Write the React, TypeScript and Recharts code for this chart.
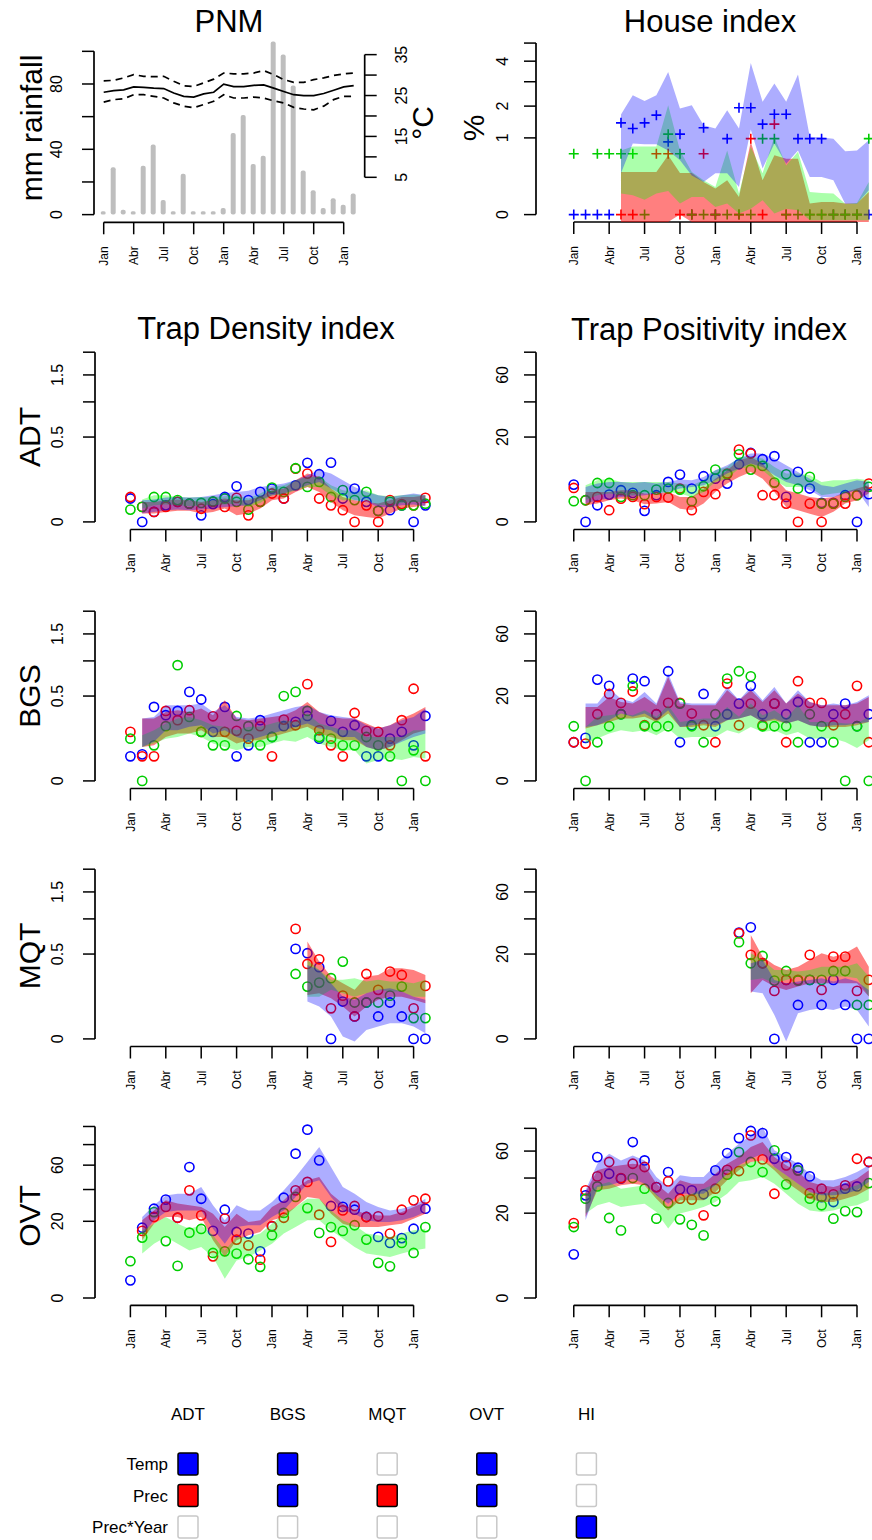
import { Area, Bar, ComposedChart, Line, ReferenceLine, Scatter, XAxis, YAxis } from "recharts";

const FONT = '"Liberation Sans", Arial, Helvetica, sans-serif';
const C_BLUE = "#0000ff";
const C_RED = "#ff0000";
const C_GREEN = "#00cd00";

type Pt = number | null;
type Band = [number, number] | null;

const months = [0, 1, 2, 3, 4, 5, 6, 7, 8, 9, 10, 11, 12, 13, 14, 15, 16, 17, 18, 19, 20, 21, 22, 23, 24, 25];
const monthTicks = [0, 3, 6, 9, 12, 15, 18, 21, 24];
const monthLabels = ["Jan", "Abr", "Jul", "Oct", "Jan", "Abr", "Jul", "Oct", "Jan"];

// PNM climate
const rainfall = [2, 29, 3, 2, 30, 43, 9, 2, 25, 2, 2, 2, 4, 50, 61, 31, 36, 106, 98, 79, 27, 15, 4, 10, 6, 13];
const tempMean = [25.8, 26.2, 26.4, 27.1, 27.0, 26.8, 26.7, 25.6, 24.8, 24.6, 25.4, 25.8, 27.8, 27.2, 27.2, 27.5, 27.6, 26.8, 26.0, 25.2, 25.0, 25.0, 25.5, 26.3, 27.1, 27.4];
const tempMax = [28.6, 28.7, 29.3, 30.1, 29.7, 29.6, 29.7, 28.5, 27.4, 27.2, 28.1, 29.0, 30.5, 30.3, 30.3, 30.5, 31.1, 30.1, 28.9, 28.2, 28.2, 28.9, 29.3, 29.9, 30.3, 30.5];
const tempMin = [23.4, 24.0, 24.2, 25.2, 25.2, 24.8, 24.4, 23.2, 22.4, 22.0, 22.8, 23.6, 25.2, 24.4, 24.4, 24.6, 24.4, 23.7, 23.2, 22.1, 21.7, 21.5, 22.4, 24.0, 24.8, 24.8];
const rainTicks = [0, 20, 40, 60, 80, 100];
const rainLabels = [0, 40, 80];
const tempTicks = [5, 10, 15, 20, 25, 30, 35];
const tempLabels = [5, 15, 25, 35];

// House index (%)
const hiBlue: Pt[] = [0, 0, 0, 0, 1.43, 1.26, 1.43, 1.68, 0.9, 1.1, 0, 1.28, 0, 0.98, 1.94, 1.94, 1.39, 1.71, 1.71, 0.98, 0.98, 0.98, 0, 0, 0, 0];
const hiRed: Pt[] = [null, null, null, null, 0, 0, null, 0.63, 0.63, 0, 0, 0.63, 0, null, 0, 0.98, 0, 1.39, 0, null, 0, 0, 0, 0, 0, null];
const hiGreen: Pt[] = [0.63, null, 0.63, 0.63, 0.63, 0.63, 0, null, 1.1, 0.63, 0, 0, 0, 0, 0, 0, 0.98, 0.98, 0, 0, 0, 0, 0, 0, 0, 0.98];
const hiBandBlue: Band[] = [null, null, null, null, [0.29, 1.7], [0.86, 2.42], [0.84, 2.19], [0.84, 2.42], [0.7, 3.46], [0.5, 1.91], [0.26, 2.03], [0.18, 1.36], [0.29, 1.26], [0.29, 1.85], [0.13, 1.26], [1.23, 3.91], [0.36, 2.16], [0.86, 2.92], [0.44, 2.16], [0.7, 3.33], [0.24, 1.03], [0.24, 1.01], [0.2, 0.98], [0.02, 0.68], [0.02, 0.7], [0.1, 0.94]];
const hiBandRed: Band[] = [null, null, null, null, [-0.0091, 0.31], [-0.0091, 0.31], [-0.0091, 0.31], [-0.0091, 0.31], [-0.0091, 0.6], [0, 0.295], [-0.0091, 0.295], [-0.0091, 0.18], [-0.0091, 0.115], [-0.0091, 0.2], [-0.0091, 0.053], [-0.0091, 0.9], [-0.0091, 0.2], [-0.0091, 0.6], [-0.0091, 0.53], [-0.0091, 0.53], [-0.0091, 0.021], [-0.0091, 0.027], [-0.0091, 0.027], [-0.0091, 0.021], [-0.0091, 0.021], [-0.0091, 0.087]];
const hiBandGreen: Band[] = [null, null, null, null, [0.075, 0.7], [0.064, 0.79], [0.038, 0.79], [0.075, 0.79], [0.095, 2.03], [0.021, 0.7], [0.053, 0.31], [0.053, 0.2], [0.01, 0.13], [0.021, 0.7], [0.0002, 0.075], [0.006, 0.78], [0.035, 0.29], [0.0002, 1.03], [0.006, 0.41], [0.0032, 0.67], [-0.0055, 0.087], [-0.0055, 0.08], [-0.0055, 0.075], [-0.0055, 0.02], [-0.0055, 0.023], [-0.0055, 0.18]];

// ADT
const adtDenBlue: Pt[] = [0.038, 0, 0.0069, 0.019, 0.028, 0.023, 0.003, 0.022, 0.043, 0.088, 0.033, 0.0625, 0.077, 0.038, 0.093, 0.242, 0.158, 0.244, 0.038, 0.077, 0.028, 0.0084, 0.0095, 0.019, 0, 0.019];
const adtDenRed: Pt[] = [0.043, 0.0156, 0.0069, 0.0156, 0.028, 0.023, 0.012, 0.028, 0.0156, 0.04, 0.003, 0.028, 0.056, 0.038, 0.197, 0.162, 0.038, 0.019, 0.0095, 0, 0.019, 0, 0.033, 0.022, 0.019, 0.04];
const adtDenGreen: Pt[] = [0.0105, 0.0156, 0.043, 0.043, 0.033, 0.023, 0.025, 0.029, 0.038, 0.028, 0.0105, 0.028, 0.082, 0.0625, 0.2, 0.085, 0.111, 0.043, 0.07, 0.033, 0.0625, 0.0084, 0.028, 0.019, 0.019, 0.023];
const adtDenBandBlue: Band[] = [null, [0.0048, 0.0326], [0.0069, 0.035], [0.0095, 0.041], [0.0105, 0.0434], [0.0095, 0.041], [0.0105, 0.0434], [0.0123, 0.049], [0.0156, 0.058], [0.017, 0.0625], [0.0193, 0.067], [0.0326, 0.085], [0.049, 0.093], [0.0557, 0.102], [0.072, 0.121], [0.093, 0.151], [0.111, 0.185], [0.077, 0.162], [0.049, 0.121], [0.0326, 0.085], [0.0278, 0.0625], [0.0156, 0.049], [0.0156, 0.0434], [0.0193, 0.049], [0.021, 0.0557], [0.017, 0.049]];
const adtDenBandRed: Band[] = [null, [0.0048, 0.0278], [0.0048, 0.0278], [0.0069, 0.0326], [0.0085, 0.035], [0.0085, 0.0326], [0.0048, 0.0278], [0.0069, 0.0326], [0.0123, 0.0378], [0.003, 0.0326], [0.0048, 0.0326], [0.0123, 0.046], [0.0326, 0.0696], [0.0378, 0.0772], [0.0625, 0.121], [0.085, 0.162], [0.0625, 0.141], [0.0278, 0.0772], [0.0095, 0.0434], [0.003, 0.0326], [0.0017, 0.0278], [0.0008, 0.0233], [0.0048, 0.0326], [0.0123, 0.0434], [0.0156, 0.0434], [0.0193, 0.049]];
const adtDenBandGreen: Band[] = [null, [0.0123, 0.035], [0.0193, 0.049], [0.021, 0.049], [0.0193, 0.0434], [0.017, 0.041], [0.0193, 0.0434], [0.0193, 0.0434], [0.021, 0.046], [0.0233, 0.049], [0.0156, 0.0378], [0.025, 0.0557], [0.049, 0.085], [0.053, 0.093], [0.0696, 0.121], [0.085, 0.141], [0.085, 0.141], [0.049, 0.093], [0.0326, 0.0696], [0.0326, 0.0625], [0.0326, 0.0696], [0.0193, 0.049], [0.021, 0.046], [0.025, 0.049], [0.0278, 0.052], [0.0278, 0.049]];
const adtPosBlue: Pt[] = [3.87, 0, 0.77, 2.07, 2.79, 2.34, 0.34, 1.98, 4.44, 6.22, 3.09, 5.8, 5.2, 4.08, 9.24, 13.2, 10.9, 12.0, 1.74, 6.94, 3.09, 1.0, 1.0, 1.98, 0, 2.13];
const adtPosRed: Pt[] = [3.2, 1.3, 1.74, 0.38, 1.5, 1.74, 0.87, 1.74, 1.65, 3.09, 0.38, 2.5, 2.13, 6.49, 14.5, 13.0, 1.98, 1.98, 0.93, 0, 0.93, 0, 0.93, 0.93, 1.98, 4.08];
const adtPosGreen: Pt[] = [1.19, 1.3, 4.2, 4.2, 1.74, 1.98, 1.98, 2.9, 3.09, 2.9, 1.19, 3.53, 7.6, 6.3, 12.7, 7.6, 8.7, 4.3, 6.3, 3.09, 5.63, 0.93, 0.93, 1.74, 1.98, 3.4];
const adtPosBandBlue: Band[] = [null, [0.93, 3.4], [1.3, 4.08], [1.51, 4.44], [1.74, 4.44], [1.83, 4.22], [1.98, 4.44], [2.23, 4.08], [2.5, 4.44], [3.09, 4.98], [3.4, 4.82], [3.73, 5.63], [4.82, 7.41], [6.49, 8.92], [7.9, 11.14], [9.45, 12.97], [8.4, 12.97], [6.05, 11.14], [4.44, 8.92], [3.73, 6.94], [2.79, 5.2], [1.74, 3.73], [1.74, 3.4], [2.23, 4.08], [2.79, 4.82], [0.62, 4.44]];
const adtPosBandRed: Band[] = [null, [0.77, 2.5], [0.93, 2.5], [1.3, 2.5], [1.51, 2.79], [1.3, 2.79], [0.87, 2.23], [0.93, 2.23], [1.11, 2.5], [0.49, 1.74], [0.38, 1.74], [0.93, 3.09], [2.5, 5.2], [4.08, 7.41], [5.63, 10.56], [6.94, 11.74], [5.2, 9.45], [2.5, 5.63], [0.62, 2.79], [0.38, 2.23], [0.19, 1.74], [0.07, 1.51], [0.28, 1.74], [0.93, 2.5], [1.3, 3.09], [2.23, 3.73]];
const adtPosBandGreen: Band[] = [null, [1.3, 3.73], [1.98, 4.82], [2.23, 5.2], [1.98, 4.44], [1.98, 4.44], [2.23, 4.44], [2.34, 4.44], [2.5, 4.44], [2.23, 4.08], [1.74, 3.73], [2.5, 4.82], [4.44, 7.41], [5.2, 8.4], [7.9, 11.74], [8.4, 11.74], [7.41, 11.14], [4.82, 8.4], [3.4, 6.49], [3.4, 6.49], [3.4, 6.05], [1.98, 4.44], [2.23, 4.82], [2.5, 4.82], [2.79, 5.2], [2.79, 4.82]];

// BGS
const bgsDenBlue: Pt[] = [0.042, 0.049, 0.38, 0.3, 0.34, 0.55, 0.46, 0.167, 0.38, 0.042, 0.088, 0.256, 0.134, 0.208, 0.242, 0.293, 0.124, 0.25, 0.167, 0.215, 0.042, 0.042, 0.124, 0.167, 0.088, 0.293];
const bgsDenRed: Pt[] = [0.167, 0.042, 0.042, 0.34, 0.256, 0.347, 0.167, 0.29, 0.167, 0.174, 0.124, 0.208, 0.042, 0.261, 0.215, 0.65, 0.178, 0.088, 0.042, 0.32, 0.174, 0.167, 0.088, 0.256, 0.59, 0.042];
const bgsDenGreen: Pt[] = [0.124, 0, 0.088, 0.208, 0.93, 0.284, 0.167, 0.088, 0.088, 0.293, 0.208, 0.088, 0.134, 0.5, 0.55, 0.34, 0.134, 0.124, 0.088, 0.088, 0.134, 0.088, 0.042, 0, 0.065, 0];
const bgsDenBandBlue: Band[] = [null, [0.08, 0.27], [0.106, 0.284], [0.178, 0.398], [0.178, 0.398], [0.203, 0.398], [0.215, 0.415], [0.156, 0.33], [0.178, 0.398], [0.134, 0.284], [0.115, 0.27], [0.134, 0.284], [0.156, 0.315], [0.178, 0.347], [0.203, 0.38], [0.228, 0.398], [0.19, 0.33], [0.178, 0.3], [0.134, 0.284], [0.134, 0.27], [0.08, 0.215], [0.065, 0.19], [0.08, 0.215], [0.106, 0.256], [0.134, 0.284], [0.156, 0.363]];
const bgsDenBandRed: Band[] = [null, [0.08, 0.27], [0.088, 0.27], [0.134, 0.33], [0.156, 0.347], [0.156, 0.33], [0.178, 0.363], [0.134, 0.3], [0.134, 0.452], [0.097, 0.27], [0.115, 0.256], [0.115, 0.27], [0.134, 0.284], [0.156, 0.3], [0.178, 0.347], [0.203, 0.433], [0.156, 0.33], [0.134, 0.284], [0.115, 0.27], [0.115, 0.27], [0.08, 0.228], [0.065, 0.19], [0.08, 0.215], [0.115, 0.27], [0.156, 0.315], [0.178, 0.38]];
const bgsDenBandGreen: Band[] = [null, [0.08, 0.145], [0.097, 0.178], [0.124, 0.228], [0.134, 0.27], [0.156, 0.284], [0.134, 0.256], [0.097, 0.215], [0.08, 0.203], [0.065, 0.178], [0.08, 0.203], [0.08, 0.203], [0.097, 0.228], [0.115, 0.256], [0.106, 0.242], [0.134, 0.315], [0.097, 0.228], [0.08, 0.203], [0.065, 0.178], [0.065, 0.178], [0.021, 0.134], [0.03, 0.134], [0.035, 0.134], [0.03, 0.134], [0.04, 0.178], [0.035, 0.178]];
const bgsPosBlue: Pt[] = [4.15, 5.14, 28.5, 25.1, 12.35, 29.1, 27.6, 12.35, 33.4, 4.15, 8.6, 21.0, 8.3, 12.35, 16.6, 25.1, 12.35, 16.6, 12.35, 17.3, 4.15, 4.15, 12.35, 16.6, 8.3, 12.35];
const bgsPosRed: Pt[] = [4.15, 3.87, 12.35, 21.0, 16.9, 22.2, 8.6, 12.35, 16.9, 16.9, 12.6, 8.6, 4.15, 26.3, 8.6, 16.6, 8.6, 16.6, 4.15, 27.6, 16.9, 16.9, 8.6, 12.35, 25.1, 4.15];
const bgsPosGreen: Pt[] = [8.3, 0, 4.15, 8.3, 12.35, 25.1, 8.3, 8.3, 8.3, 16.6, 8.3, 4.15, 12.35, 29.1, 33.4, 30.4, 8.3, 8.3, 8.3, 4.15, 12.35, 8.3, 4.15, 0, 8.3, 0];
const bgsPosBandBlue: Band[] = [null, [8.1, 16.6], [8.61, 16.6], [10.2, 23.7], [12.6, 18.8], [11.4, 17.3], [12.6, 22.0], [10.2, 16.6], [13.9, 32.0], [8.1, 17.3], [8.61, 16.6], [9.13, 16.6], [8.61, 16.6], [10.2, 24.5], [10.8, 18.1], [12.0, 24.5], [9.67, 18.1], [10.8, 24.5], [9.13, 16.6], [10.2, 22.8], [8.61, 17.3], [8.1, 15.9], [8.61, 16.6], [8.61, 15.9], [9.13, 17.3], [9.67, 20.4]];
const bgsPosBandRed: Band[] = [null, [7.61, 15.2], [8.61, 15.2], [9.67, 19.6], [10.8, 17.3], [10.8, 16.6], [11.4, 19.6], [9.67, 15.9], [12.6, 30.0], [8.1, 16.6], [8.1, 15.9], [8.61, 15.9], [8.1, 15.9], [10.2, 22.8], [10.8, 18.1], [12.0, 22.8], [9.67, 17.3], [10.2, 22.8], [9.13, 16.6], [10.2, 21.2], [8.61, 17.3], [8.1, 15.9], [8.1, 15.9], [8.1, 15.9], [8.61, 16.6], [9.67, 19.6]];
const bgsPosBandGreen: Band[] = [null, [3.87, 8.1], [4.98, 11.4], [6.22, 12.0], [7.13, 12.6], [6.67, 12.0], [7.13, 13.9], [5.79, 11.4], [7.61, 15.9], [4.98, 9.67], [5.38, 10.2], [5.38, 10.8], [5.38, 10.8], [7.13, 15.2], [6.22, 11.4], [8.1, 16.6], [6.67, 12.0], [7.13, 13.9], [5.79, 10.8], [6.67, 15.9], [4.98, 9.67], [4.98, 9.67], [4.98, 9.67], [4.22, 9.13], [3.0, 9.13], [4.59, 11.4]];

// MQT
const mqtDenBlue: Pt[] = [null, null, null, null, null, null, null, null, null, null, null, null, null, null, 0.5625, 0.51, 0.357, 0, 0.097, 0.035, 0.092, 0.035, 0.092, 0.035, 0, 0];
const mqtDenRed: Pt[] = [null, null, null, null, null, null, null, null, null, null, null, null, null, null, 0.84, 0.39, 0.44, 0.065, 0.13, 0.035, 0.293, 0.167, 0.315, 0.284, 0.065, 0.195];
const mqtDenGreen: Pt[] = [null, null, null, null, null, null, null, null, null, null, null, null, null, null, 0.293, 0.19, 0.22, 0.256, 0.415, 0.092, 0.092, 0.092, 0.13, 0.19, 0.03, 0.03];
const mqtDenBandBlue: Band[] = [null, null, null, null, null, null, null, null, null, null, null, null, null, null, null, [0.097, 0.38], [0.073, 0.33], [0.035, 0.215], [0.0004, 0.124], [-0.0005, 0.106], [0.0056, 0.145], [0.0106, 0.167], [0.017, 0.178], [0.017, 0.156], [0.0106, 0.124], [0.0022, 0.106]];
const mqtDenBandRed: Band[] = [null, null, null, null, null, null, null, null, null, null, null, null, null, null, null, [0.134, 0.658], [0.145, 0.415], [0.115, 0.27], [0.073, 0.215], [0.035, 0.167], [0.073, 0.27], [0.106, 0.284], [0.124, 0.347], [0.124, 0.347], [0.106, 0.33], [0.088, 0.284]];
const mqtDenBandGreen: Band[] = [null, null, null, null, null, null, null, null, null, null, null, null, null, null, null, [0.124, 0.433], [0.124, 0.33], [0.167, 0.242], [0.145, 0.242], [0.124, 0.256], [0.145, 0.228], [0.167, 0.242], [0.156, 0.228], [0.156, 0.228], [0.124, 0.215], [0.124, 0.242]];
const mqtPosBlue: Pt[] = [null, null, null, null, null, null, null, null, null, null, null, null, null, null, 31.4, 34.6, 15.9, 0, 9.67, 3.2, 9.67, 3.2, 9.67, 3.2, 0, 0];
const mqtPosRed: Pt[] = [null, null, null, null, null, null, null, null, null, null, null, null, null, null, 31.0, 19.6, 15.9, 6.4, 9.67, 9.67, 19.6, 6.67, 18.8, 18.8, 6.4, 9.67];
const mqtPosGreen: Pt[] = [null, null, null, null, null, null, null, null, null, null, null, null, null, null, 26.0, 15.9, 19.1, 9.45, 12.8, 9.45, 9.67, 9.67, 12.8, 12.8, 3.2, 3.2];
const mqtPosBandBlue: Band[] = [null, null, null, null, null, null, null, null, null, null, null, null, null, null, null, [6.22, 15.9], [5.79, 17.3], [1.6, 9.67], [-0.02, 8.61], [1.83, 9.13], [2.34, 9.67], [2.61, 10.2], [2.34, 9.13], [2.9, 10.2], [2.34, 9.13], [0.42, 6.67]];
const mqtPosBandRed: Band[] = [null, null, null, null, null, null, null, null, null, null, null, null, null, null, null, [5.79, 30.0], [9.67, 18.8], [7.61, 15.2], [6.67, 13.2], [7.61, 14.5], [8.61, 17.3], [8.61, 20.4], [8.61, 18.8], [8.61, 20.4], [8.61, 23.7], [4.98, 14.5]];
const mqtPosBandGreen: Band[] = [null, null, null, null, null, null, null, null, null, null, null, null, null, null, null, [9.67, 20.4], [10.2, 17.3], [8.61, 13.2], [9.67, 13.2], [10.8, 12.6], [10.8, 13.2], [10.8, 14.5], [10.8, 14.5], [10.8, 14.5], [10.2, 15.9], [4.98, 10.8]];

// OVT
const ovtDenBlue: Pt[] = [1.06, 16.8, 27.1, 32.9, 21.9, 58.3, 33.5, 15.3, 26.5, 14.8, 14.1, 7.4, 17.5, 34.2, 70.8, 96.3, 64.4, 28.8, 28.2, 26.5, 22.3, 12.7, 10.3, 12.2, 16.3, 27.1];
const ovtDenRed: Pt[] = [null, 15.3, 22.3, 28.2, 21.9, 39.4, 23.2, 5.9, 21.4, 11.6, 9.4, 5.0, 17.5, 21.9, 39.4, 45.8, 23.6, 10.7, 26.1, 28.8, 22.3, 22.7, 14.1, 26.5, 32.4, 33.5];
const ovtDenGreen: Pt[] = [4.6, 12.4, 25.1, 11.0, 3.5, 14.5, 16.2, 6.9, 7.4, 6.7, 5.1, 3.3, 13.4, 24.6, 34.7, 27.5, 14.4, 17.1, 15.3, 18.0, 11.6, 4.2, 3.4, 10.3, 6.9, 17.1];
const ovtDenBandBlue: Band[] = [null, [13.4, 22.3], [20.5, 29.2], [25.1, 35.8], [26.1, 37.0], [26.1, 37.0], [26.1, 41.9], [16.3, 29.2], [10.0, 20.5], [17.1, 29.2], [18.0, 26.1], [18.0, 26.1], [22.3, 31.3], [26.1, 39.4], [34.7, 49.8], [44.4, 62.9], [47.1, 77.5], [34.7, 58.3], [26.1, 41.9], [24.2, 37.0], [20.5, 31.3], [19.6, 28.2], [19.6, 26.1], [20.5, 27.1], [22.3, 29.2], [25.1, 33.5]];
const ovtDenBandRed: Band[] = [null, [11.3, 20.5], [18.8, 26.1], [22.3, 32.4], [22.3, 30.3], [20.5, 29.2], [22.3, 28.2], [11.3, 24.2], [5.7, 17.1], [11.3, 24.2], [13.4, 19.6], [14.8, 20.5], [20.5, 28.2], [22.3, 32.4], [28.2, 40.6], [34.7, 47.1], [33.5, 49.8], [24.2, 37.0], [18.8, 30.3], [17.1, 26.1], [17.1, 24.2], [17.1, 23.2], [18.0, 23.2], [18.8, 25.1], [21.4, 28.2], [24.2, 31.3]];
const ovtDenBandGreen: Band[] = [null, [6.7, 15.6], [10.0, 18.8], [12.7, 22.3], [10.0, 18.8], [7.7, 16.3], [8.8, 18.0], [5.7, 13.4], [1.27, 7.7], [4.8, 12.7], [5.7, 12.7], [7.7, 14.1], [10.0, 18.8], [14.1, 24.2], [17.1, 28.2], [20.5, 33.5], [20.5, 33.5], [15.6, 26.1], [12.0, 20.5], [8.8, 18.0], [6.7, 14.1], [6.2, 13.4], [5.7, 12.7], [6.7, 14.1], [7.7, 15.6], [8.3, 16.3]];
const ovtPosBlue: Pt[] = [5.3, 29.3, 55.2, 42.9, 39.6, 67.6, 52.6, 34.2, 44.1, 32.8, 32.2, 29.9, 45.3, 58.4, 71.1, 77.5, 75.6, 53.9, 55.2, 47.2, 41.1, 28.3, 25.6, 33.2, 34.6, 51.4];
const ovtPosRed: Pt[] = [15.6, 32.2, 41.1, 51.4, 40.0, 50.1, 47.7, 34.2, 37.8, 27.4, 26.9, 19.0, 33.2, 45.7, 44.8, 73.5, 53.4, 30.2, 48.9, 45.3, 30.6, 33.2, 29.9, 35.3, 53.9, 51.4];
const ovtPosGreen: Pt[] = [14.0, 27.4, 34.6, 17.8, 12.7, 40.0, 33.2, 17.5, 25.1, 17.2, 14.9, 10.9, 26.0, 42.3, 59.2, 51.4, 44.1, 60.6, 35.9, 45.3, 27.4, 23.9, 17.5, 21.0, 20.5, 36.7];
const ovtPosBandBlue: Band[] = [null, [16.8, 32.2], [34.2, 50.1], [35.3, 57.9], [37.4, 52.6], [39.6, 56.5], [36.3, 52.6], [29.3, 40.7], [24.7, 34.2], [30.2, 41.8], [30.2, 40.7], [30.2, 40.7], [35.3, 48.9], [42.9, 57.9], [48.9, 66.2], [53.9, 73.5], [57.9, 81.2], [47.7, 60.6], [41.8, 55.2], [36.3, 50.1], [31.2, 42.9], [29.3, 38.5], [29.3, 38.5], [30.2, 40.7], [32.2, 44.1], [37.4, 48.9]];
const ovtPosBandRed: Band[] = [null, [18.2, 31.2], [32.2, 45.3], [33.2, 47.7], [35.3, 48.9], [36.3, 50.1], [35.3, 48.9], [27.4, 36.3], [21.3, 30.2], [26.5, 38.5], [26.5, 36.3], [26.5, 36.3], [31.2, 42.9], [38.5, 50.1], [45.3, 55.2], [51.4, 63.3], [52.6, 67.6], [45.3, 55.2], [37.4, 48.9], [32.2, 44.1], [27.4, 37.4], [25.6, 35.3], [25.6, 34.2], [27.4, 36.3], [29.3, 39.6], [33.2, 45.3]];
const ovtPosBandGreen: Band[] = [null, [19.8, 29.3], [23.9, 35.3], [25.6, 37.4], [23.0, 33.2], [23.9, 34.2], [24.7, 35.3], [20.5, 30.2], [13.4, 23.0], [19.8, 28.3], [21.3, 30.2], [23.0, 33.2], [25.6, 36.3], [30.2, 42.9], [37.4, 48.9], [38.5, 51.4], [40.7, 52.6], [36.3, 47.7], [30.2, 41.8], [24.7, 36.3], [21.3, 31.2], [20.5, 30.2], [21.3, 31.2], [23.0, 33.2], [23.9, 35.3], [26.5, 39.6]];

// axis ticks
const hiTicks = [0, 1, 2, 3, 4, 5];
const hiLabels = [0, 1, 2, 4];
const denTicks = [0, 0.5, 1, 1.5, 2];
const denLabels = [0, 0.5, 1.5];
const posTicks = [0, 20, 40, 60, 80];
const posLabels = [0, 20, 60];
const ovtDenTicks = [0, 20, 40, 60, 80, 100];
const ovtLabels = [0, 20, 60];

// bottom legend
const legendCols = ["ADT", "BGS", "MQT", "OVT", "HI"];
const legendRows = ["Temp", "Prec", "Prec*Year"];
const legendFill = [
  [C_BLUE, C_RED, null],
  [C_BLUE, C_BLUE, null],
  [null, C_RED, null],
  [C_BLUE, C_BLUE, null],
  [null, null, C_BLUE],
];

const YW = 70;
const XH = 60;
const AXIS = { stroke: "#000", strokeWidth: 1.5 };

const monthTick = (bottom: number) => (p: any) => {
  const x = p.x + 4.4;
  const y = bottom + 24;
  return (
    <text x={x} y={y} transform={`rotate(-90 ${x} ${y})`} textAnchor="end" fontSize={12} fontFamily={FONT} fill="#000">
      {monthLabels[monthTicks.indexOf(p.payload.value)]}
    </text>
  );
};

const valueTick = (baseX: number, labels: number[]) => (p: any) => {
  const v = p.payload.value;
  if (!labels.includes(v)) return <g />;
  const y = p.y;
  return (
    <text x={baseX} y={y} transform={`rotate(-90 ${baseX} ${y})`} textAnchor="middle" fontSize={16} fontFamily={FONT} fill="#000">
      {String(v)}
    </text>
  );
};

type PanelProps = {
  id: string;
  left: number;
  top: number;
  width: number;
  height: number;
  xDomain: [number, number];
  yDomain: [number, number];
  yTicks: number[];
  yLabels: number[];
  labelOff: number;
  marker: "circle" | "plus";
  blue: Pt[];
  red: Pt[];
  green: Pt[];
  blueBand: Band[];
  redBand: Band[];
  greenBand: Band[];
};

function ObsPanel(p: PanelProps) {
  const rows = months.map((m, i) => ({ m, b: p.blueBand[i], r: p.redBand[i], g: p.greenBand[i] }));
  const toPts = (arr: Pt[]) => arr.map((v, i) => (v == null ? null : { m: i, v })).filter(Boolean) as { m: number; v: number }[];
  const shape = (color: string) => (s: any) =>
    p.marker === "circle" ? (
      <circle cx={s.cx} cy={s.cy} r={4.6} fill="none" stroke={color} strokeWidth={1.6} />
    ) : (
      <path d={`M${s.cx - 5},${s.cy}h10M${s.cx},${s.cy - 5}v10`} stroke={color} strokeWidth={1.6} fill="none" />
    );
  const yTop = p.yTicks[p.yTicks.length - 1];
  const areaProps: any = { type: "linear", stroke: "none", isAnimationActive: false, activeDot: false, zIndex: 700 };
  return (
    <div style={{ position: "absolute", left: p.left - YW, top: p.top }}>
      <ComposedChart width={YW + p.width} height={p.height + XH} data={rows} margin={{ top: 0, right: 0, bottom: 0, left: 0 }}>
        <XAxis
          type="number"
          dataKey="m"
          domain={p.xDomain}
          allowDataOverflow
          ticks={monthTicks}
          interval={0}
          height={XH}
          axisLine={false}
          tickSize={12}
          tickLine={AXIS}
          stroke="#000"
          tick={monthTick(p.height)}
        />
        <YAxis
          type="number"
          scale="sqrt"
          domain={p.yDomain}
          allowDataOverflow
          ticks={p.yTicks}
          interval={0}
          width={YW}
          axisLine={false}
          tickSize={12}
          tickLine={AXIS}
          stroke="#000"
          tick={valueTick(YW + p.labelOff, p.yLabels)}
        />
        <Scatter data={toPts(p.blue)} dataKey="v" shape={shape(C_BLUE)} isAnimationActive={false} />
        <Scatter data={toPts(p.red)} dataKey="v" shape={shape(C_RED)} isAnimationActive={false} />
        <Scatter data={toPts(p.green)} dataKey="v" shape={shape(C_GREEN)} isAnimationActive={false} />
        <Area dataKey="r" fill="#ff0000" fillOpacity={0.5} {...areaProps} />
        <Area dataKey="g" fill="#00ff00" fillOpacity={0.33} {...areaProps} />
        <Area dataKey="b" fill="#0000ff" fillOpacity={0.32} {...areaProps} />
        <ReferenceLine segment={[{ x: 0, y: p.yDomain[0] }, { x: 24, y: p.yDomain[0] }]} stroke="#000" strokeWidth={1.7} ifOverflow="visible" />
        <ReferenceLine segment={[{ x: p.xDomain[0], y: 0 }, { x: p.xDomain[0], y: yTop }]} stroke="#000" strokeWidth={1.7} ifOverflow="visible" />
      </ComposedChart>
    </div>
  );
}

function PnmPanel() {
  const left = 94.3;
  const top = 35.4;
  const width = 270.7;
  const height = 187.3;
  const xDomain: [number, number] = [-0.97, 26.1];
  const rainDomain: [number, number] = [-4.7, 110];
  const tempDomain: [number, number] = [-6.0, 39.8];
  const rows = months.map((m, i) => ({ m, rain: rainfall[i], tmean: tempMean[i], tmax: tempMax[i], tmin: tempMin[i] }));
  return (
    <div style={{ position: "absolute", left: left - YW, top }}>
      <ComposedChart width={YW + width + YW} height={height + XH} data={rows} margin={{ top: 0, right: 0, bottom: 0, left: 0 }}>
        <XAxis
          type="number"
          dataKey="m"
          domain={xDomain}
          allowDataOverflow
          ticks={monthTicks}
          interval={0}
          height={XH}
          axisLine={false}
          tickSize={12}
          tickLine={AXIS}
          stroke="#000"
          tick={monthTick(height)}
        />
        <YAxis
          yAxisId="L"
          type="number"
          domain={rainDomain}
          allowDataOverflow
          ticks={rainTicks}
          interval={0}
          width={YW}
          axisLine={false}
          tickSize={12}
          tickLine={AXIS}
          stroke="#000"
          tick={valueTick(YW - 32, rainLabels)}
        />
        <YAxis
          yAxisId="R"
          orientation="right"
          type="number"
          domain={tempDomain}
          allowDataOverflow
          ticks={tempTicks}
          interval={0}
          width={YW}
          axisLine={false}
          tickSize={12}
          tickLine={AXIS}
          stroke="#000"
          tick={valueTick(YW + width + 42, tempLabels)}
        />
        <Bar yAxisId="L" dataKey="rain" barSize={5} fill="#bebebe" radius={2} isAnimationActive={false} />
        <Line yAxisId="R" dataKey="tmean" type="linear" stroke="#000" strokeWidth={1.7} dot={false} activeDot={false} isAnimationActive={false} />
        <Line yAxisId="R" dataKey="tmax" type="linear" stroke="#000" strokeWidth={1.7} strokeDasharray="7 5" dot={false} activeDot={false} isAnimationActive={false} />
        <Line yAxisId="R" dataKey="tmin" type="linear" stroke="#000" strokeWidth={1.7} strokeDasharray="7 5" dot={false} activeDot={false} isAnimationActive={false} />
        <ReferenceLine yAxisId="L" segment={[{ x: 0, y: rainDomain[0] }, { x: 24, y: rainDomain[0] }]} stroke="#000" strokeWidth={1.7} ifOverflow="visible" />
        <ReferenceLine yAxisId="L" segment={[{ x: xDomain[0], y: 0 }, { x: xDomain[0], y: 100 }]} stroke="#000" strokeWidth={1.7} ifOverflow="visible" />
        <ReferenceLine yAxisId="R" segment={[{ x: xDomain[1], y: 5 }, { x: xDomain[1], y: 35 }]} stroke="#000" strokeWidth={1.7} ifOverflow="visible" />
      </ComposedChart>
    </div>
  );
}

const COL_L = { left: 94.6, width: 348.1, xDomain: [-3.0, 26.5] as [number, number], labelOff: -32 };
const COL_R = { left: 535.9, width: 350.5, xDomain: [-3.2, 26.5] as [number, number], labelOff: -28 };
const DEN_DOMAIN: [number, number] = [-0.004, 2.1];
const POS_DOMAIN: [number, number] = [-0.16, 84];

const panels: PanelProps[] = [
  { id: "hi", ...COL_R, top: 37.7, height: 184, yDomain: [-0.0093, 5.3], yTicks: hiTicks, yLabels: hiLabels, marker: "plus", blue: hiBlue, red: hiRed, green: hiGreen, blueBand: hiBandBlue, redBand: hiBandRed, greenBand: hiBandGreen },
  { id: "adtD", ...COL_L, top: 347.8, height: 181.5, yDomain: DEN_DOMAIN, yTicks: denTicks, yLabels: denLabels, marker: "circle", blue: adtDenBlue, red: adtDenRed, green: adtDenGreen, blueBand: adtDenBandBlue, redBand: adtDenBandRed, greenBand: adtDenBandGreen },
  { id: "adtP", ...COL_R, top: 347.8, height: 181.5, yDomain: POS_DOMAIN, yTicks: posTicks, yLabels: posLabels, marker: "circle", blue: adtPosBlue, red: adtPosRed, green: adtPosGreen, blueBand: adtPosBandBlue, redBand: adtPosBandRed, greenBand: adtPosBandGreen },
  { id: "bgsD", ...COL_L, top: 606.8, height: 181.5, yDomain: DEN_DOMAIN, yTicks: denTicks, yLabels: denLabels, marker: "circle", blue: bgsDenBlue, red: bgsDenRed, green: bgsDenGreen, blueBand: bgsDenBandBlue, redBand: bgsDenBandRed, greenBand: bgsDenBandGreen },
  { id: "bgsP", ...COL_R, top: 606.8, height: 181.5, yDomain: POS_DOMAIN, yTicks: posTicks, yLabels: posLabels, marker: "circle", blue: bgsPosBlue, red: bgsPosRed, green: bgsPosGreen, blueBand: bgsPosBandBlue, redBand: bgsPosBandRed, greenBand: bgsPosBandGreen },
  { id: "mqtD", ...COL_L, top: 865.1, height: 181.5, yDomain: DEN_DOMAIN, yTicks: denTicks, yLabels: denLabels, marker: "circle", blue: mqtDenBlue, red: mqtDenRed, green: mqtDenGreen, blueBand: mqtDenBandBlue, redBand: mqtDenBandRed, greenBand: mqtDenBandGreen },
  { id: "mqtP", ...COL_R, top: 865.1, height: 181.5, yDomain: POS_DOMAIN, yTicks: posTicks, yLabels: posLabels, marker: "circle", blue: mqtPosBlue, red: mqtPosRed, green: mqtPosGreen, blueBand: mqtPosBandBlue, redBand: mqtPosBandRed, greenBand: mqtPosBandGreen },
  { id: "ovtD", ...COL_L, top: 1121.7, height: 183.3, yDomain: [-0.181, 105.3], yTicks: ovtDenTicks, yLabels: ovtLabels, marker: "circle", blue: ovtDenBlue, red: ovtDenRed, green: ovtDenGreen, blueBand: ovtDenBandBlue, redBand: ovtDenBandRed, greenBand: ovtDenBandGreen },
  { id: "ovtP", ...COL_R, top: 1121.7, height: 183.3, yDomain: [-0.148, 86.1], yTicks: posTicks, yLabels: ovtLabels, marker: "circle", blue: ovtPosBlue, red: ovtPosRed, green: ovtPosGreen, blueBand: ovtPosBandBlue, redBand: ovtPosBandRed, greenBand: ovtPosBandGreen },
];

const titles = [
  { text: "PNM", x: 229, y: 32 },
  { text: "House index", x: 710, y: 32 },
  { text: "Trap Density index", x: 266, y: 339 },
  { text: "Trap Positivity index", x: 709, y: 340 },
];
const sideLabels = [
  { text: "mm rainfall", x: 42, y: 128 },
  { text: "%", x: 484, y: 128 },
  { text: "°C", x: 433, y: 123 },
  { text: "ADT", x: 40, y: 437 },
  { text: "BGS", x: 40, y: 696 },
  { text: "MQT", x: 40, y: 956 },
  { text: "OVT", x: 40, y: 1216 },
];

function Overlay() {
  return (
    <svg width={872} height={1540} style={{ position: "absolute", left: 0, top: 0, pointerEvents: "none" }} fontFamily={FONT}>
      {titles.map((t) => (
        <text key={t.text} x={t.x} y={t.y} textAnchor="middle" fontSize={31} fill="#000">
          {t.text}
        </text>
      ))}
      {sideLabels.map((t) => (
        <text key={t.text} x={t.x} y={t.y} transform={`rotate(-90 ${t.x} ${t.y})`} textAnchor="middle" fontSize={30} fill="#000">
          {t.text}
        </text>
      ))}
      {legendCols.map((c, i) => (
        <text key={c} x={188 + i * 99.6} y={1420} textAnchor="middle" fontSize={17} fill="#000">
          {c}
        </text>
      ))}
      {legendRows.map((r, j) => (
        <text key={r} x={168} y={1464 + j * 31.5 + 6} textAnchor="end" fontSize={17} fill="#000">
          {r}
        </text>
      ))}
      {legendCols.map((c, i) =>
        legendRows.map((r, j) => {
          const fill = legendFill[i][j];
          return (
            <rect
              key={c + r}
              x={188 + i * 99.6 - 10}
              y={1464 + j * 31.5 - 11}
              width={20}
              height={22}
              rx={2}
              fill={fill ?? "#fff"}
              stroke={fill ? "#000" : "#c8c8c8"}
              strokeWidth={1.5}
            />
          );
        })
      )}
    </svg>
  );
}

export default function App() {
  return (
    <div style={{ position: "absolute", left: 0, top: 0, width: 872, height: 1540, overflow: "hidden", background: "#fff", fontFamily: FONT }}>
      <PnmPanel />
      {panels.map((p) => (
        <ObsPanel key={p.id} {...p} />
      ))}
      <Overlay />
    </div>
  );
}
